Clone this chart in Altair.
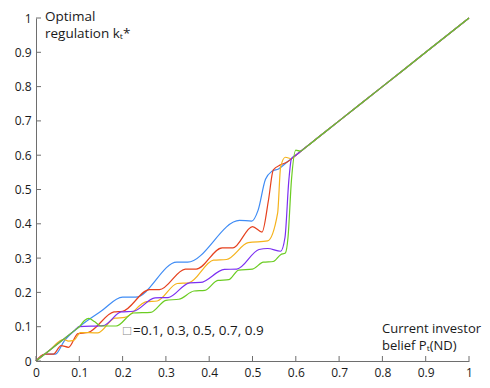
import altair as alt
import pandas as pd

# ---- data ----
blue_x = [0, 0.022, 0.045, 0.065, 0.1, 0.15, 0.2, 0.23, 0.325, 0.35, 0.47, 0.498, 0.513, 0.53, 0.545, 0.56, 0.58, 0.6, 0.65, 0.7, 0.8, 0.9, 1]
blue_y = [0, 0.02, 0.02, 0.058, 0.1, 0.145, 0.186, 0.186, 0.288, 0.288, 0.41, 0.408, 0.44, 0.53, 0.553, 0.56, 0.58, 0.6, 0.65, 0.7, 0.8, 0.9, 1]

red_x = [0, 0.02, 0.04, 0.058, 0.075, 0.097, 0.12, 0.18, 0.2, 0.262, 0.285, 0.345, 0.37, 0.43, 0.455, 0.5, 0.522, 0.537, 0.548, 0.565, 0.58, 0.6, 0.65, 0.7, 0.8, 0.9, 1]
red_y = [0, 0.02, 0.02, 0.045, 0.04, 0.08, 0.083, 0.143, 0.145, 0.208, 0.208, 0.268, 0.268, 0.33, 0.33, 0.392, 0.376, 0.47, 0.557, 0.572, 0.58, 0.6, 0.65, 0.7, 0.8, 0.9, 1]

orange_x = [0, 0.03, 0.064, 0.075, 0.087, 0.103, 0.143, 0.182, 0.205, 0.255, 0.28, 0.326, 0.353, 0.41, 0.44, 0.49, 0.535, 0.558, 0.565, 0.576, 0.59, 0.6, 0.62, 0.65, 0.7, 0.8, 0.9, 1]
orange_y = [0, 0.03, 0.063, 0.058, 0.06, 0.083, 0.082, 0.125, 0.127, 0.173, 0.175, 0.226, 0.228, 0.294, 0.296, 0.345, 0.35, 0.431, 0.566, 0.594, 0.59, 0.6, 0.62, 0.65, 0.7, 0.8, 0.9, 1]

purple_x = [0, 0.03, 0.06, 0.09, 0.1, 0.155, 0.197, 0.225, 0.275, 0.305, 0.355, 0.38, 0.435, 0.464, 0.515, 0.535, 0.565, 0.575, 0.584, 0.59, 0.6, 0.62, 0.65, 0.7, 0.8, 0.9, 1]
purple_y = [0, 0.03, 0.06, 0.09, 0.1, 0.103, 0.143, 0.145, 0.184, 0.185, 0.228, 0.229, 0.267, 0.268, 0.325, 0.328, 0.32, 0.36, 0.528, 0.59, 0.6, 0.62, 0.65, 0.7, 0.8, 0.9, 1]

green_x = [0, 0.03, 0.06, 0.09, 0.1, 0.112, 0.122, 0.135, 0.15, 0.185, 0.225, 0.265, 0.3, 0.33, 0.365, 0.39, 0.42, 0.445, 0.468, 0.5, 0.525, 0.548, 0.565, 0.576, 0.582, 0.59, 0.6, 0.61, 0.625, 0.65, 0.7, 0.8, 0.9, 1]
green_y = [0, 0.03, 0.06, 0.09, 0.1, 0.118, 0.124, 0.115, 0.102, 0.102, 0.14, 0.142, 0.177, 0.18, 0.204, 0.206, 0.235, 0.237, 0.265, 0.268, 0.288, 0.29, 0.31, 0.315, 0.36, 0.528, 0.615, 0.612, 0.625, 0.65, 0.7, 0.8, 0.9, 1]

series_names = ["0.1", "0.3", "0.5", "0.7", "0.9"]
series_colors = ["#3f8cf5", "#e6411e", "#f5b31c", "#7b2ff2", "#6bcc22"]

x_ticks = [0, 0.1, 0.2, 0.3, 0.4, 0.5, 0.6, 0.7, 0.8, 0.9, 1]
y_ticks = [0, 0.1, 0.2, 0.3, 0.4, 0.5, 0.6, 0.7, 0.8, 0.9, 1]

y_title_lines = ["Optimal", "regulation k\u209c*"]
x_title_lines = ["Current investor", "belief P\u209c(ND)"]
legend_symbol = "\u25a1"
legend_text = "=0.1, 0.3, 0.5, 0.7, 0.9"

# ---- build table ----
rows = []
for name, xs, ys in zip(series_names,
                        [blue_x, red_x, orange_x, purple_x, green_x],
                        [blue_y, red_y, orange_y, purple_y, green_y]):
    for i, (a, b) in enumerate(zip(xs, ys)):
        rows.append({"s": name, "x": a, "y": b, "i": i})
df = pd.DataFrame(rows)

W, H = 433, 343
FONT = "Open Sans"

xs = alt.Scale(domain=[0, 1], nice=False)
ys = alt.Scale(domain=[0, 1], nice=False)

x_axis = alt.Axis(values=x_ticks, format="~g", title=None, grid=False,
                  tickSize=0, labelPadding=6, domainColor="#6e6e6e",
                  labelOverlap=False, labelFlush=False,
                  labelColor="#1a1a1a", labelFontSize=12, labelFont=FONT)
y_axis = alt.Axis(values=y_ticks, format="~g", title=None, grid=False,
                  tickSize=0, labelPadding=5, domainColor="#6e6e6e",
                  labelOverlap=False, labelFlush=False,
                  labelColor="#1a1a1a", labelFontSize=12, labelFont=FONT)

lines = alt.Chart(df).mark_line(interpolate="monotone", strokeWidth=1.2).encode(
    x=alt.X("x:Q", scale=xs, axis=x_axis),
    y=alt.Y("y:Q", scale=ys, axis=y_axis),
    color=alt.Color("s:N", scale=alt.Scale(domain=series_names, range=series_colors), legend=None),
    order="i:Q",
    detail="s:N",
)

xt = alt.Chart(pd.DataFrame({"t": x_ticks})).mark_rule(color="#6e6e6e").encode(
    x=alt.X("t:Q", scale=xs, axis=x_axis), y=alt.value(H), y2=alt.value(H - 5))
yt = alt.Chart(pd.DataFrame({"t": y_ticks})).mark_rule(color="#6e6e6e").encode(
    y=alt.Y("t:Q", scale=ys, axis=y_axis), x=alt.value(0), x2=alt.value(5))

def txt(s, px, py, color="#1a1a1a", size=13.5):
    return alt.Chart(pd.DataFrame({"s": [s]})).mark_text(
        align="left", baseline="alphabetic", font=FONT, fontSize=size, color=color
    ).encode(text="s:N", x=alt.value(px), y=alt.value(py))

texts = [
    txt(y_title_lines[0], 9, 3),
    txt(y_title_lines[1], 9, 19.5),
    txt(x_title_lines[0], 346, 314.5, size=13),
    txt(x_title_lines[1], 346, 332, size=13),
    txt(legend_symbol, 87, 316.5, color="#8a8a8a"),
    txt(legend_text, 97, 316.5),
]

chart = alt.layer(lines, xt, yt, *texts).properties(
    width=W, height=H,
    padding={"left": 28, "top": 10, "right": 13, "bottom": 19},
    autosize=alt.AutoSizeParams(type="none"),
).configure_view(stroke=None)

chart.save("out.html", embed_options={"renderer": "svg", "actions": False})
